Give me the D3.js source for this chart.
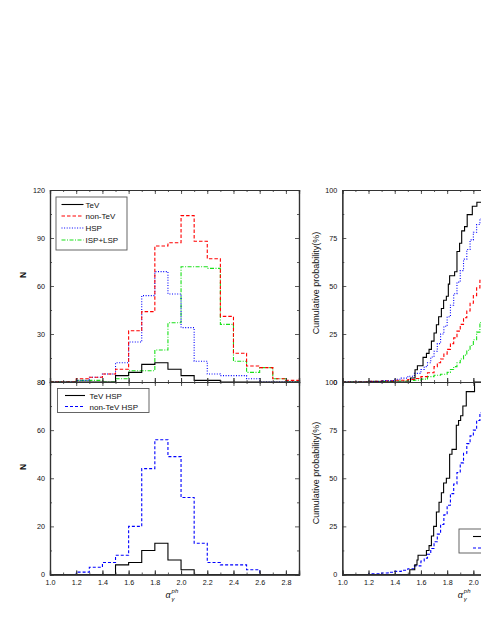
<!DOCTYPE html>
<html>
<head>
<meta charset="utf-8">
<script src="https://cdn.jsdelivr.net/npm/d3@7"></script>
<style>
    body { margin: 0; background: #fff; }
    svg { display: block; font-family: "Liberation Sans", Arial, sans-serif; }
</style>
</head>
<body>
<div id="chart"></div>
<script>
// histogram bins: left edge of each 0.1 wide bin
const binStarts = [1.0, 1.1, 1.2, 1.3, 1.4, 1.5, 1.6, 1.7, 1.8, 1.9, 2.0, 2.1, 2.2, 2.3, 2.4, 2.5, 2.6, 2.7, 2.8];
const binWidth = 0.1;

// top left panel (N per bin)
const histTeV    = [0, 0, 0, 0, 0, 4, 6, 11, 12, 8, 4, 1, 1, 0, 0, 0, 0, 0, 0];
const histNonTeV = [0, 0, 2, 3, 5, 8, 32, 44, 85, 87, 104, 88, 77, 41, 18, 10, 9, 2, 1];
const histHSP    = [0, 0, 1, 3, 5, 12, 25, 54, 69, 55, 34, 13, 5, 4, 4, 2, 0, 0, 0];
const histISPLSP = [0, 0, 1, 1, 0, 2, 7, 7, 20, 37, 72, 72, 71, 36, 13, 6, 9, 2, 0];

// bottom left panel
const histTeVHSP    = [0, 0, 0, 0, 0, 4, 5, 10, 13, 6, 2, 0, 0, 0, 0, 0, 0, 0, 0];
const histNonTeVHSP = [0, 0, 1, 3, 5, 8, 20, 44, 56, 49, 32, 13, 5, 4, 4, 2, 0, 0, 0];

// cumulative probability (%), step points
const cumTeVX = [1.0, 1.520, 1.555, 1.573, 1.616, 1.642, 1.662, 1.680, 1.700, 1.718, 1.735, 1.756, 1.773, 1.794, 1.809, 1.819, 1.857, 1.875, 1.895, 1.911, 1.933, 1.953, 1.992, 2.027, 2.1];
const cumTeVP = [0, 2.1, 6.4, 8.5, 12.8, 14.9, 17, 21.3, 25.5, 29.8, 34, 38.3, 42.6, 44.7, 51, 55.3, 57.4, 68, 72.3, 78.7, 80.9, 87.2, 91.5, 93.6, 95.7];

const cumHSPX = [1.0, 1.2, 1.3, 1.4, 1.45, 1.5, 1.55, 1.6, 1.625, 1.65, 1.675, 1.7, 1.725, 1.75, 1.775, 1.8, 1.825, 1.85, 1.875, 1.9, 1.925, 1.95, 1.975, 2.0, 2.025, 2.05, 2.1];
const cumHSPP = [0, 0.3, 0.7, 1.4, 2, 3, 4.5, 6.5, 8, 10, 13, 16, 20, 25, 29, 34, 40, 46, 52, 58, 64, 69, 74, 78, 82, 85, 89];

const cumNonTeVX = [1.0, 1.2, 1.3, 1.4, 1.5, 1.55, 1.6, 1.65, 1.7, 1.725, 1.75, 1.775, 1.8, 1.825, 1.85, 1.875, 1.9, 1.925, 1.95, 1.975, 2.0, 2.025, 2.05, 2.075];
const cumNonTeVP = [0, 0.3, 0.6, 0.9, 1.3, 1.8, 2.8, 4.8, 8, 10, 12, 14.5, 17, 20, 23, 26.5, 30, 33.5, 37, 41, 45, 49, 53, 56];

const cumISPLSPX = [1.0, 1.2, 1.4, 1.5, 1.55, 1.6, 1.65, 1.7, 1.75, 1.8, 1.825, 1.85, 1.875, 1.9, 1.925, 1.95, 1.975, 2.0, 2.025, 2.05, 2.075];
const cumISPLSPP = [0, 0.3, 0.5, 0.8, 1, 1.5, 2.8, 3.5, 4, 5, 6.5, 8, 10, 12, 14, 16.5, 19, 22, 26, 31, 34];

const cumTeVHSPX = [1.0, 1.515, 1.553, 1.570, 1.578, 1.642, 1.662, 1.680, 1.697, 1.718, 1.738, 1.756, 1.773, 1.794, 1.819, 1.837, 1.870, 1.887, 1.903, 1.920, 1.946, 2.009, 2.1];
const cumTeVHSPP = [0, 2.5, 5, 7.5, 10, 12.5, 15, 20, 25, 32.5, 37.5, 42.5, 47.5, 50, 62.5, 65, 77.5, 80, 82.5, 87.5, 95, 100, 100];

const cumNonTeVHSPX = [1.0, 1.2, 1.3, 1.35, 1.4, 1.45, 1.5, 1.55, 1.6, 1.625, 1.65, 1.675, 1.7, 1.725, 1.75, 1.775, 1.8, 1.825, 1.85, 1.875, 1.9, 1.925, 1.95, 1.975, 2.0, 2.025, 2.05, 2.075];
const cumNonTeVHSPP = [0, 0.4, 0.8, 1.2, 1.6, 2.2, 3, 4.5, 7, 8.5, 10.5, 13.5, 17, 21, 26, 31, 36, 42, 47, 53, 58, 63, 68, 72, 75, 80, 84, 87];

// ticks
const xMajor = [1.0, 1.2, 1.4, 1.6, 1.8, 2.0, 2.2, 2.4, 2.6, 2.8];
const yTopNTicks = [0, 30, 60, 90, 120];
const yBotNTicks = [0, 20, 40, 60, 80];
const yCumTicks = [0, 25, 50, 75, 100];

// styles
const RED = '#ff0000', BLUE = '#0000ff', GREEN = '#19e019', BLACK = '#000';
const styles = {
    tev:      { color: BLACK, dash: null },
    nontev:   { color: RED,   dash: '3.5,2' },
    hsp:      { color: BLUE,  dash: '1,1.6' },
    isp:      { color: GREEN, dash: '4,1.5,1,1.5' },
    nontevhsp:{ color: BLUE,  dash: '3,2' }
};

const W = 481, H = 623;
const svg = d3.select('#chart').append('svg')
    .attr('width', W).attr('height', H);

// panel geometry
const leftX = [50, 299];
const rightX = [342.3, 591.3];
const topY = [190, 382];
const botY = [382, 574.5];

const xL = d3.scaleLinear().domain([1.0, 2.9]).range(leftX);
const xR = d3.scaleLinear().domain([1.0, 2.9]).range(rightX);
const yTL = d3.scaleLinear().domain([0, 120]).range([topY[1], topY[0]]);
const yBL = d3.scaleLinear().domain([0, 80]).range([botY[1], botY[0]]);
const yTR = d3.scaleLinear().domain([0, 100]).range([topY[1], topY[0]]);
const yBR = d3.scaleLinear().domain([0, 100]).range([botY[1], botY[0]]);

function histLine(x, y, vals) {
    const pts = binStarts.map((b, i) => [b, vals[i]]);
    pts.push([binStarts[binStarts.length - 1] + binWidth, vals[vals.length - 1]]);
    return d3.line().x(d => x(d[0])).y(d => y(d[1])).curve(d3.curveStepAfter)(pts);
}

function cumLine(x, y, xs, ps) {
    const pts = xs.map((v, i) => [v, ps[i]]);
    return d3.line().x(d => x(d[0])).y(d => y(d[1])).curve(d3.curveStepAfter)(pts);
}

function drawPath(g, d, st) {
    g.append('path')
        .attr('d', d)
        .attr('fill', 'none')
        .attr('stroke', st.color)
        .attr('stroke-width', 1.1)
        .attr('stroke-dasharray', st.dash);
}

// axes: all ticks point inward, mirrored on all sides
function frame(x, y, yTicks, yMinor, showBottomLabels) {
    const g = svg.append('g').attr('class', 'axes');
    const x0 = x.range()[0], x1 = x.range()[1];
    const y0 = y.range()[1], y1 = y.range()[0];
    const xMinor = d3.range(10, 30).map(d => d / 10);
    // only label ticks that land inside the window
    const xLabelled = xMajor.filter(v => x(v) < W - 4);

    const fmtX = d3.format('.1f');
    // bottom
    g.append('g').attr('transform', `translate(0,${y1})`)
        .call(d3.axisBottom(x).tickValues(xMinor).tickSize(-2).tickFormat(''));
    g.append('g').attr('transform', `translate(0,${y1})`)
        .call(d3.axisBottom(x).tickValues(showBottomLabels ? xLabelled : xMajor)
            .tickSize(-4).tickPadding(5)
            .tickFormat(showBottomLabels ? fmtX : ''));
    g.append('g').attr('transform', `translate(0,${y1})`)
        .call(d3.axisBottom(x).tickValues(xMajor).tickSize(-4).tickFormat(''));
    // top
    g.append('g').attr('transform', `translate(0,${y0})`)
        .call(d3.axisTop(x).tickValues(xMinor).tickSize(-2).tickFormat(''));
    g.append('g').attr('transform', `translate(0,${y0})`)
        .call(d3.axisTop(x).tickValues(xMajor).tickSize(-4).tickFormat(''));
    // left
    g.append('g').attr('transform', `translate(${x0},0)`)
        .call(d3.axisLeft(y).tickValues(yMinor).tickSize(-2).tickFormat(''));
    g.append('g').attr('transform', `translate(${x0},0)`)
        .call(d3.axisLeft(y).tickValues(yTicks).tickSize(-4).tickPadding(5));
    // right
    g.append('g').attr('transform', `translate(${x1},0)`)
        .call(d3.axisRight(y).tickValues(yMinor).tickSize(-2).tickFormat(''));
    g.append('g').attr('transform', `translate(${x1},0)`)
        .call(d3.axisRight(y).tickValues(yTicks).tickSize(-4).tickFormat(''));

    g.selectAll('.domain').attr('stroke', '#333').attr('stroke-width', 1.2);
    g.selectAll('.tick line').attr('stroke', '#333').attr('stroke-width', 0.8);
    g.selectAll('.tick text').attr('font-size', 7.2).attr('fill', '#111')
        .attr('font-family', '"Liberation Sans", Arial, sans-serif');
    return g;
}

// data layers first, frames on top
const gTL = svg.append('g');
drawPath(gTL, histLine(xL, yTL, histISPLSP), styles.isp);
drawPath(gTL, histLine(xL, yTL, histHSP), styles.hsp);
drawPath(gTL, histLine(xL, yTL, histNonTeV), styles.nontev);
drawPath(gTL, histLine(xL, yTL, histTeV), styles.tev);

const gBL = svg.append('g');
drawPath(gBL, histLine(xL, yBL, histNonTeVHSP), styles.nontevhsp);
drawPath(gBL, histLine(xL, yBL, histTeVHSP), styles.tev);

const gTR = svg.append('g');
drawPath(gTR, cumLine(xR, yTR, cumISPLSPX, cumISPLSPP), styles.isp);
drawPath(gTR, cumLine(xR, yTR, cumNonTeVX, cumNonTeVP), styles.nontev);
drawPath(gTR, cumLine(xR, yTR, cumHSPX, cumHSPP), styles.hsp);
drawPath(gTR, cumLine(xR, yTR, cumTeVX, cumTeVP), styles.tev);

const gBR = svg.append('g');
drawPath(gBR, cumLine(xR, yBR, cumNonTeVHSPX, cumNonTeVHSPP), styles.nontevhsp);
drawPath(gBR, cumLine(xR, yBR, cumTeVHSPX, cumTeVHSPP), styles.tev);

frame(xL, yTL, yTopNTicks, [15, 45, 75, 105], false);
frame(xL, yBL, yBotNTicks, [10, 30, 50, 70], true);
frame(xR, yTR, yCumTicks, [12.5, 37.5, 62.5, 87.5], false);
frame(xR, yBR, yCumTicks, [12.5, 37.5, 62.5, 87.5], true);

// axis titles
function yTitle(x, y, text, bold, size) {
    svg.append('text')
        .attr('transform', `translate(${x},${y}) rotate(-90)`)
        .attr('text-anchor', 'middle')
        .attr('font-size', size)
        .attr('font-weight', bold ? 'bold' : 'normal')
        .attr('fill', '#111')
        .text(text);
}
yTitle(26, 275, 'N', true, 8.5);
yTitle(26, 467, 'N', true, 8.5);
yTitle(319, 283, 'Cumulative probability(%)', false, 9);
yTitle(319, 473, 'Cumulative probability(%)', false, 9);

function alphaLabel(cx, by) {
    const g = svg.append('g').attr('fill', '#111').attr('font-style', 'italic');
    g.append('text').attr('x', cx - 5).attr('y', by).attr('font-size', 9).text('α');
    g.append('text').attr('x', cx + 1).attr('y', by + 2.5).attr('font-size', 6).text('γ');
    g.append('text').attr('x', cx + 1).attr('y', by - 5).attr('font-size', 6).text('ph');
}
alphaLabel(xL(1.92), 598);
alphaLabel(xR(1.92), 598);

// legends
function legend(x, y, w, h, items, lineX0, lineX1, textX, rowY) {
    const g = svg.append('g');
    g.append('rect').attr('x', x).attr('y', y).attr('width', w).attr('height', h)
        .attr('fill', '#fff').attr('stroke', '#555').attr('stroke-width', 0.9);
    items.forEach((it, i) => {
        g.append('line')
            .attr('x1', lineX0).attr('x2', lineX1)
            .attr('y1', rowY[i]).attr('y2', rowY[i])
            .attr('stroke', it.style.color).attr('stroke-width', 1.1)
            .attr('stroke-dasharray', it.style.dash);
        g.append('text').attr('x', textX).attr('y', rowY[i] + 3)
            .attr('font-size', 8).attr('fill', '#111').text(it.label);
    });
}
legend(56, 197, 71, 53, [
    { label: 'TeV', style: styles.tev },
    { label: 'non-TeV', style: styles.nontev },
    { label: 'HSP', style: styles.hsp },
    { label: 'ISP+LSP', style: styles.isp }
], 61.5, 83.5, 85.5, [204.5, 216, 228, 240]);

legend(57.5, 388.5, 91.5, 24, [
    { label: 'TeV HSP', style: styles.tev },
    { label: 'non-TeV HSP', style: styles.nontevhsp }
], 65, 85, 89.5, [395.5, 406.5]);

// this one sits at the window's right edge, only its left part shows
legend(459, 529, 80, 24, [
    { label: 'TeV HSP', style: styles.tev },
    { label: 'non-TeV HSP', style: styles.nontevhsp }
], 473, 493, 497, [536.5, 548]);
</script>
</body>
</html>
